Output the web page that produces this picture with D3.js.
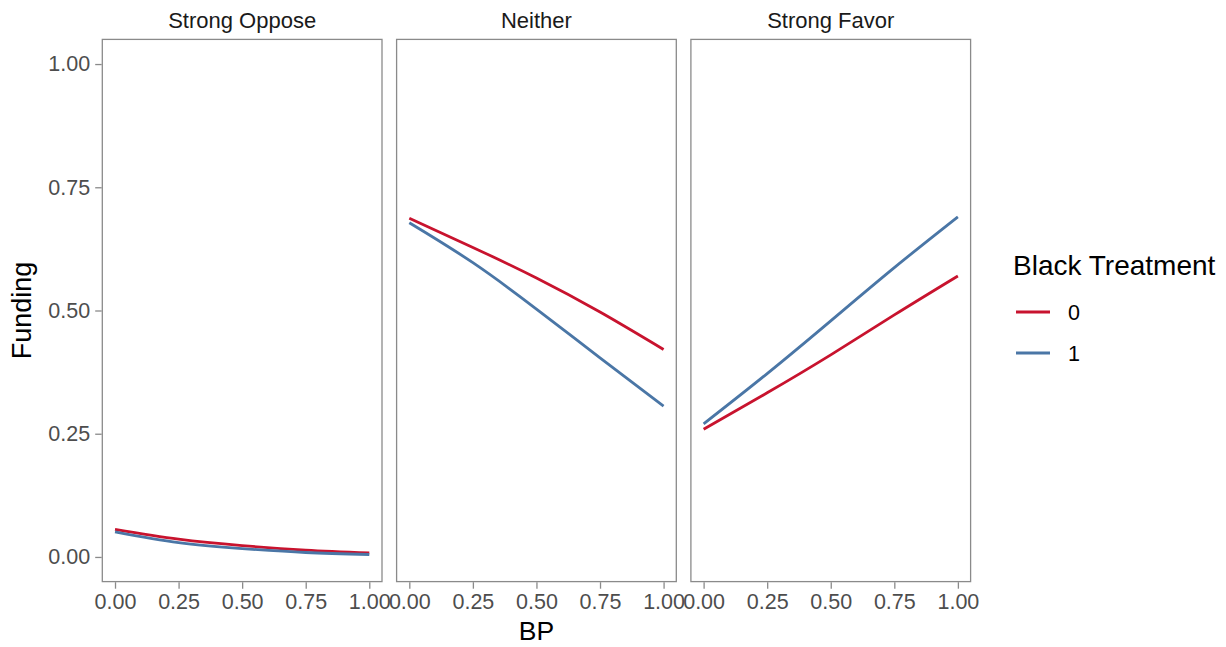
<!DOCTYPE html>
<html>
<head>
<meta charset="utf-8">
<script src="https://cdn.jsdelivr.net/npm/d3@7"></script>
<style>
  html, body { margin: 0; padding: 0; background: #ffffff; }
  svg { display: block; font-family: "Liberation Sans", Arial, Helvetica, sans-serif; }
</style>
</head>
<body>
<svg id="chart" width="1226" height="647"></svg>
<script>
// Predicted funding by BP, faceted by policy attitude
const facets = ["Strong Oppose", "Neither", "Strong Favor"];
const groups = ["0", "1"];
const bpValues = [0, 0.25, 0.5, 0.75, 1];

// Fitted funding for Black Treatment = 0 / 1 at each BP value
const opposeT0 = [0.056, 0.036, 0.023, 0.014, 0.008];
const opposeT1 = [0.051, 0.029, 0.017, 0.009, 0.005];
const neitherT0 = [0.687, 0.628, 0.566, 0.497, 0.421];
const neitherT1 = [0.678, 0.597, 0.503, 0.404, 0.306];
const favorT0 = [0.259, 0.333, 0.410, 0.491, 0.570];
const favorT1 = [0.270, 0.372, 0.479, 0.587, 0.690];

const xTicks = [0, 0.25, 0.5, 0.75, 1];
const yTicks = [0, 0.25, 0.5, 0.75, 1];

const seriesByFacet = {
  "Strong Oppose": { "0": opposeT0, "1": opposeT1 },
  "Neither": { "0": neitherT0, "1": neitherT1 },
  "Strong Favor": { "0": favorT0, "1": favorT1 }
};

const color = d3.scaleOrdinal().domain(groups).range(["#C8132E", "#4A76A6"]);

const svg = d3.select("#chart");

// Panel geometry
const panelLeft = 102.3, panelWidth = 279.7, panelGap = 14.6;
const panelTop = 39.4, panelBottom = 581.6;
const fmt = d3.format(".2f");

const y = d3.scaleLinear().domain([-0.05, 1.05]).range([panelBottom, panelTop]);

const line = (xs) => d3.line()
  .x((d, i) => xs(bpValues[i]))
  .y(d => y(d))
  .curve(d3.curveNatural);

facets.forEach((facet, k) => {
  const x0 = panelLeft + k * (panelWidth + panelGap);
  const x = d3.scaleLinear().domain([-0.05, 1.05]).range([x0, x0 + panelWidth]);
  const g = svg.append("g");

  // strip label
  g.append("text")
    .attr("x", x0 + panelWidth / 2)
    .attr("y", 28)
    .attr("text-anchor", "middle")
    .attr("font-size", 22)
    .attr("fill", "#1a1a1a")
    .text(facet);

  // lines
  groups.forEach(grp => {
    g.append("path")
      .datum(seriesByFacet[facet][grp])
      .attr("fill", "none")
      .attr("stroke", color(grp))
      .attr("stroke-width", 2.8)
      .attr("stroke-linecap", "butt")
      .attr("d", line(x));
  });

  // panel border
  g.append("rect")
    .attr("x", x0).attr("y", panelTop)
    .attr("width", panelWidth).attr("height", panelBottom - panelTop)
    .attr("fill", "none")
    .attr("stroke", "#8a8a8a")
    .attr("stroke-width", 1.3);

  // x axis
  const xAxis = g.append("g")
    .attr("transform", `translate(0,${panelBottom + 0.6})`)
    .call(d3.axisBottom(x).tickValues(xTicks).tickFormat(fmt).tickSize(6.5).tickPadding(5));
  xAxis.select(".domain").remove();
  xAxis.selectAll("line").attr("stroke", "#8a8a8a").attr("stroke-width", 1.3);
  xAxis.selectAll("text").attr("font-size", 21.5).attr("fill", "#4d4d4d")
    .attr("font-family", "Liberation Sans, Arial, sans-serif");

  // y axis on first panel only
  if (k === 0) {
    const yAxis = g.append("g")
      .attr("transform", `translate(${x0 - 0.6},0)`)
      .call(d3.axisLeft(y).tickValues(yTicks).tickFormat(fmt).tickSize(6.5).tickPadding(5));
    yAxis.select(".domain").remove();
    yAxis.selectAll("line").attr("stroke", "#8a8a8a").attr("stroke-width", 1.3);
    yAxis.selectAll("text").attr("font-size", 21.5).attr("fill", "#4d4d4d")
      .attr("font-family", "Liberation Sans, Arial, sans-serif");
  }
});

// axis titles
const plotRight = panelLeft + 3 * panelWidth + 2 * panelGap;
svg.append("text")
  .attr("x", (panelLeft + plotRight) / 2)
  .attr("y", 640)
  .attr("text-anchor", "middle")
  .attr("font-size", 26.5)
  .attr("fill", "#000")
  .text("BP");

svg.append("text")
  .attr("transform", `translate(31,${y(0.5)}) rotate(-90)`)
  .attr("text-anchor", "middle")
  .attr("font-size", 27)
  .attr("fill", "#000")
  .text("Funding");

// legend
const legend = svg.append("g").attr("transform", "translate(1013,0)");
legend.append("text")
  .attr("x", 0).attr("y", 275)
  .attr("font-size", 28)
  .attr("fill", "#000")
  .text("Black Treatment");

const keyY = d3.scalePoint().domain(groups).range([312, 353]);
groups.forEach(grp => {
  legend.append("line")
    .attr("x1", 3).attr("x2", 37)
    .attr("y1", keyY(grp)).attr("y2", keyY(grp))
    .attr("stroke", color(grp))
    .attr("stroke-width", 2.8);
  legend.append("text")
    .attr("x", 55).attr("y", keyY(grp))
    .attr("dy", "0.35em")
    .attr("font-size", 21.5)
    .attr("fill", "#000")
    .text(grp);
});
</script>
</body>
</html>
